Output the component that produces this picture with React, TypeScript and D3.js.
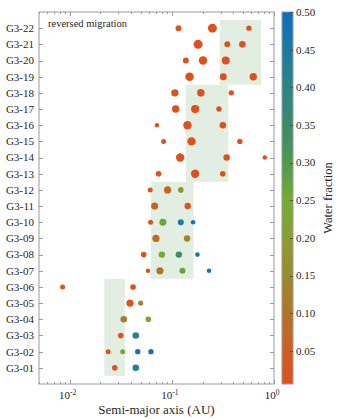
import React, { useEffect, useRef } from "react"
import * as d3 from "d3"

// simulation names, bottom (G3-01) to top (G3-22)
const systems = [
    "G3-01", "G3-02", "G3-03", "G3-04", "G3-05", "G3-06", "G3-07", "G3-08",
    "G3-09", "G3-10", "G3-11", "G3-12", "G3-13", "G3-14", "G3-15", "G3-16",
    "G3-17", "G3-18", "G3-19", "G3-20", "G3-21", "G3-22"
]

// semi-major axis (AU) of each final planet, one list per system
const semiMajorAxis = [
    [0.0276, 0.0443],
    [0.0238, 0.0330, 0.0463, 0.0624],
    [0.0316, 0.0443],
    [0.0338, 0.0588],
    [0.0389, 0.0495],
    [0.00851, 0.0417],
    [0.0583, 0.0764, 0.127, 0.231],
    [0.0530, 0.0798, 0.117, 0.178],
    [0.0698, 0.141],
    [0.0619, 0.0817, 0.1224, 0.1614],
    [0.0678, 0.143],
    [0.0614, 0.0908, 0.1224],
    [0.0741, 0.169, 0.315],
    [0.1205, 0.344, 0.813],
    [0.083, 0.1557, 0.463],
    [0.0714, 0.142, 0.316],
    [0.109, 0.169, 0.289],
    [0.1069, 0.192, 0.382],
    [0.1489, 0.319, 0.627],
    [0.137, 0.2018, 0.337],
    [0.1805, 0.349, 0.49],
    [0.1162, 0.2494, 0.568]
]

// planet masses (Earth masses)
const planetMass = [
    [0.39, 0.54],
    [0.31, 0.31, 0.36, 0.36],
    [0.39, 0.54],
    [0.54, 0.39],
    [0.64, 0.31],
    [0.31, 0.39],
    [0.26, 0.64, 0.44, 0.26],
    [0.39, 0.51, 0.51, 0.26],
    [0.64, 0.51],
    [0.31, 0.6, 0.44, 0.26],
    [0.64, 0.51],
    [0.31, 0.64, 0.39],
    [0.39, 0.87, 0.39],
    [0.87, 0.54, 0.24],
    [0.31, 0.87, 0.36],
    [0.24, 0.87, 0.54],
    [0.68, 0.83, 0.36],
    [0.68, 0.71, 0.36],
    [0.91, 0.6, 0.68],
    [0.44, 0.87, 0.79],
    [1.0, 0.44, 0.54],
    [0.44, 1.0, 0.36]
]

// water mass fraction of each planet
const waterFraction = [
    [0.02, 0.41],
    [0.02, 0.25, 0.48, 0.48],
    [0.02, 0.41],
    [0.12, 0.2],
    [0.02, 0.13],
    [0.03, 0.01],
    [0.02, 0.1, 0.27, 0.46],
    [0.02, 0.24, 0.34, 0.46],
    [0.07, 0.14],
    [0.02, 0.26, 0.44, 0.47],
    [0.06, 0.03],
    [0.02, 0.07, 0.18],
    [0.01, 0.01, 0.01],
    [0.01, 0.01, 0.01],
    [0.01, 0.01, 0.01],
    [0.01, 0.01, 0.01],
    [0.01, 0.01, 0.01],
    [0.01, 0.01, 0.01],
    [0.01, 0.01, 0.01],
    [0.01, 0.01, 0.01],
    [0.01, 0.01, 0.01],
    [0.01, 0.01, 0.01]
]

// habitable-zone style shaded blocks: first system, last system, a range (AU)
const blockFrom = ["G3-01", "G3-07", "G3-13", "G3-19"]
const blockTo = ["G3-06", "G3-12", "G3-18", "G3-22"]
const blockAMin = [0.0218, 0.0623, 0.137, 0.294]
const blockAMax = [0.0347, 0.163, 0.357, 0.75]

const colorStops = [0.006, 0.05, 0.1, 0.15, 0.2, 0.25, 0.3, 0.35, 0.4, 0.45, 0.5]
const colorValues = [
    "#e0501c", "#cd5f22", "#b27427", "#9c8a2b", "#8a9f2e", "#74ad2e",
    "#4f9a4c", "#3a8b6c", "#2a8588", "#1a7aa6", "#0b6dc4"
]
const colorbarTicks = [0.05, 0.1, 0.15, 0.2, 0.25, 0.3, 0.35, 0.4, 0.45, 0.5]
const xDecades = [0.01, 0.1, 1]

const W = 341
const H = 419
const left = 39
const right = 274
const top = 12
const bottom = 384
const font = "'Liberation Serif', 'Times New Roman', serif"
const axisColor = "#9a9a9a"
const textColor = "#262626"

export default function App() {
    const ref = useRef<SVGSVGElement>(null)

    useEffect(() => {
        const svg = d3.select(ref.current)
        svg.selectAll("*").remove()

        const x = d3.scaleLog().domain([0.005, 1]).range([left, right])
        const y = d3.scaleLinear().domain([0, systems.length + 1]).range([bottom, top])
        const sysY = (name: string) => y(systems.indexOf(name) + 1)
        const color = d3.scaleLinear<string>().domain(colorStops).range(colorValues)
            .interpolate(d3.interpolateRgb).clamp(true)
        const r = d3.scaleSqrt().domain([0, 1]).range([0, 4.5])

        const step = y(0) - y(1)

        // shaded blocks
        svg.append("g")
            .selectAll("rect")
            .data(blockFrom.map((f, i) => i))
            .enter()
            .append("rect")
            .attr("x", i => x(blockAMin[i]))
            .attr("width", i => x(blockAMax[i]) - x(blockAMin[i]))
            .attr("y", i => sysY(blockTo[i]) - step / 2)
            .attr("height", i => sysY(blockFrom[i]) - sysY(blockTo[i]) + step)
            .attr("fill", "#e3eee3")

        // planets
        const planets: { a: number, m: number, w: number, s: string }[] = []
        systems.forEach((s, i) => {
            semiMajorAxis[i].forEach((a, j) => {
                planets.push({ a, m: planetMass[i][j], w: waterFraction[i][j], s })
            })
        })
        svg.append("g")
            .selectAll("circle")
            .data(planets)
            .enter()
            .append("circle")
            .attr("cx", d => x(d.a))
            .attr("cy", d => sysY(d.s))
            .attr("r", d => r(d.m))
            .attr("fill", d => color(d.w))

        // axes box
        const box = svg.append("g").attr("stroke", axisColor).attr("fill", "none")
        box.append("rect")
            .attr("x", left).attr("y", top)
            .attr("width", right - left).attr("height", bottom - top)
            .attr("stroke-width", 1)

        // x ticks (log, inward, top and bottom)
        const allX = x.ticks().filter(v => v >= 0.005 && v <= 1)
        allX.forEach(v => {
            const major = xDecades.includes(v)
            const len = major ? 4 : 2
            const px = Math.round(x(v)) + 0.5
            box.append("line").attr("x1", px).attr("x2", px)
                .attr("y1", bottom).attr("y2", bottom - len)
            box.append("line").attr("x1", px).attr("x2", px)
                .attr("y1", top).attr("y2", top + len)
        })

        // y ticks (inward, left and right)
        systems.forEach(s => {
            const py = Math.round(sysY(s)) + 0.5
            box.append("line").attr("x1", left).attr("x2", left + 4).attr("y1", py).attr("y2", py)
            box.append("line").attr("x1", right).attr("x2", right - 4).attr("y1", py).attr("y2", py)
        })

        // y labels
        svg.append("g")
            .selectAll("text")
            .data(systems)
            .enter()
            .append("text")
            .attr("x", left - 5)
            .attr("y", d => sysY(d))
            .attr("dy", "0.35em")
            .attr("text-anchor", "end")
            .attr("font-family", font)
            .attr("font-size", 11)
            .attr("fill", textColor)
            .text(d => d)

        // x labels 10^n
        const xl = svg.append("g")
            .selectAll("text")
            .data(xDecades)
            .enter()
            .append("text")
            .attr("x", d => x(d) - 2)
            .attr("y", 399)
            .attr("text-anchor", "middle")
            .attr("font-family", font)
            .attr("font-size", 11)
            .attr("fill", textColor)
        xl.append("tspan").text("10")
        xl.append("tspan")
            .attr("font-size", 7.5)
            .attr("dy", -4)
            .text(d => String(Math.round(Math.log10(d))))

        svg.append("text")
            .attr("x", (left + right) / 2)
            .attr("y", 414)
            .attr("text-anchor", "middle")
            .attr("font-family", font)
            .attr("font-size", 13)
            .attr("fill", textColor)
            .text("Semi-major axis (AU)")

        svg.append("text")
            .attr("x", 48)
            .attr("y", 27)
            .attr("font-family", font)
            .attr("font-size", 10.5)
            .attr("fill", textColor)
            .text("reversed migration")

        // colorbar
        const cbX = 282
        const cbW = 11
        const cy = d3.scaleLinear().domain([0.006, 0.5]).range([bottom, top])
        const grad = svg.append("defs").append("linearGradient")
            .attr("id", "wf-grad")
            .attr("x1", 0).attr("y1", 1).attr("x2", 0).attr("y2", 0)
        grad.selectAll("stop")
            .data(colorStops)
            .enter()
            .append("stop")
            .attr("offset", d => (d - 0.006) / (0.5 - 0.006))
            .attr("stop-color", d => color(d))
        svg.append("rect")
            .attr("x", cbX).attr("y", top)
            .attr("width", cbW).attr("height", bottom - top)
            .attr("fill", "url(#wf-grad)")
            .attr("stroke", axisColor)
            .attr("stroke-width", 1)
        const cbt = svg.append("g")
        colorbarTicks.forEach(t => {
            const py = Math.round(cy(t)) + 0.5
            cbt.append("line")
                .attr("x1", cbX + cbW - 3).attr("x2", cbX + cbW)
                .attr("y1", py).attr("y2", py)
                .attr("stroke", "#555")
            cbt.append("text")
                .attr("x", cbX + cbW + 3)
                .attr("y", cy(t))
                .attr("dy", "0.35em")
                .attr("font-family", font)
                .attr("font-size", 11)
                .attr("fill", textColor)
                .text(d3.format(".2f")(t))
        })
        svg.append("text")
            .attr("transform", `translate(332,${(top + bottom) / 2}) rotate(-90)`)
            .attr("text-anchor", "middle")
            .attr("font-family", font)
            .attr("font-size", 12.5)
            .attr("fill", textColor)
            .text("Water fraction")
    }, [])

    return (
        <svg
            ref={ref}
            width={W}
            height={H}
            style={{ position: "absolute", left: 0, top: 0, background: "#fff" }}
        />
    )
}
